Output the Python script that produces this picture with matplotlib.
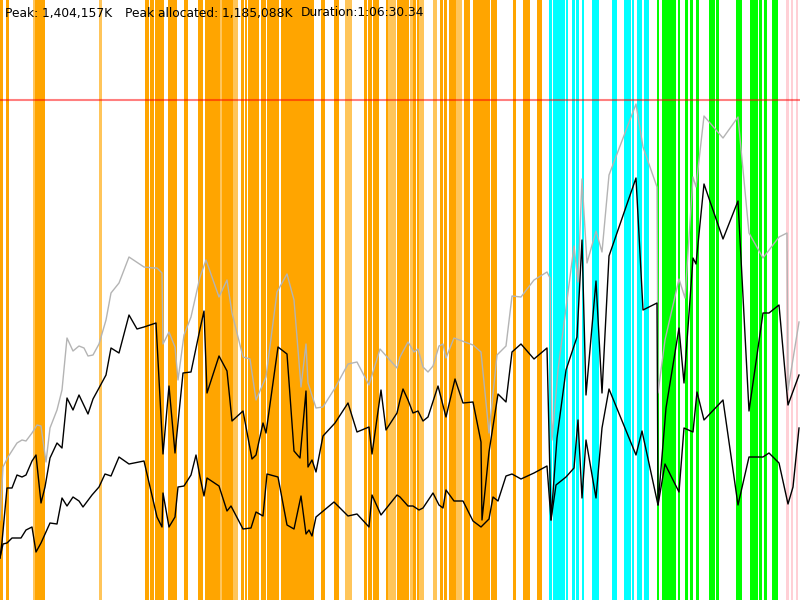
"""
GC log overview: heap lines over collection events
"""

import matplotlib
matplotlib.use("Agg")
import matplotlib.pyplot as plt

### values (pixel units, y grows downwards)
gray_x = [0, 3, 8, 17, 22, 26, 32, 37, 41, 46, 50, 57, 62, 67, 73, 79, 84, 88, 93, 99,
          106, 111, 119, 129, 144, 154, 157, 162, 163, 169, 175, 178, 184, 191, 200, 206,
          219, 227, 232, 243, 250, 256, 266, 277, 287, 294, 301, 306, 308, 316, 323, 335,
          348, 357, 369, 380, 397, 400, 408, 414, 418, 423, 428, 433, 439, 443, 446, 454,
          473, 481, 489, 497, 506, 512, 521, 534, 547, 550, 552, 558, 574, 578, 582, 587,
          596, 602, 609, 636, 643, 657, 658, 665, 679, 685, 693, 696, 704, 723, 738, 749,
          763, 779, 787, 788, 799]
gray_y = [520, 467, 457, 443, 440, 441, 433, 425, 426, 462, 428, 410, 390, 338, 351, 346,
          348, 356, 355, 344, 320, 293, 283, 257, 267, 268, 268, 273, 344, 332, 347, 380,
          335, 317, 277, 260, 297, 280, 313, 357, 359, 400, 377, 292, 274, 300, 387, 344,
          383, 408, 407, 388, 364, 362, 385, 349, 368, 357, 342, 352, 349, 367, 372, 366,
          346, 344, 358, 338, 345, 352, 433, 355, 346, 296, 297, 280, 272, 278, 440, 370,
          246, 282, 179, 263, 231, 252, 175, 104, 147, 187, 393, 340, 279, 298, 177, 187,
          116, 138, 117, 233, 258, 237, 233, 390, 322]

upper_x = [0, 2, 7, 12, 17, 22, 26, 32, 36, 41, 45, 50, 57, 62, 67, 73, 79, 88, 93, 99,
           106, 111, 119, 129, 137, 144, 156, 163, 169, 175, 183, 191, 200, 204, 207, 219,
           227, 232, 243, 252, 256, 263, 266, 278, 287, 294, 300, 306, 308, 312, 316, 323,
           335, 348, 357, 369, 372, 381, 386, 397, 400, 403, 408, 413, 418, 423, 428, 438,
           446, 455, 463, 473, 481, 482, 489, 498, 506, 512, 521, 534, 547, 551, 557, 566,
           577, 582, 586, 596, 602, 609, 636, 643, 657, 658, 666, 679, 684, 693, 696, 704,
           723, 738, 749, 763, 769, 779, 788, 799]
upper_y = [558, 542, 488, 488, 475, 477, 475, 461, 455, 503, 487, 458, 443, 448, 398, 410,
           395, 414, 399, 388, 375, 348, 353, 315, 329, 327, 323, 454, 386, 453, 373, 372,
           329, 311, 393, 356, 371, 421, 411, 459, 455, 423, 433, 347, 354, 451, 458, 391,
           467, 460, 472, 436, 423, 403, 432, 427, 454, 390, 430, 413, 400, 389, 400, 413,
           411, 421, 417, 386, 417, 379, 403, 402, 442, 520, 452, 394, 402, 352, 344, 359,
           348, 520, 438, 370, 337, 240, 395, 281, 393, 256, 178, 310, 303, 505, 408, 328,
           383, 258, 264, 184, 239, 201, 411, 313, 313, 305, 405, 375]

lower_x = [0, 3, 7, 12, 17, 21, 26, 32, 36, 41, 50, 57, 62, 67, 73, 79, 83, 92, 99, 105,
           111, 119, 129, 144, 157, 162, 163, 169, 175, 178, 184, 191, 196, 200, 204, 207,
           219, 227, 231, 243, 251, 256, 263, 267, 278, 287, 294, 301, 306, 309, 312, 316,
           334, 348, 357, 369, 372, 381, 397, 400, 408, 413, 419, 423, 433, 439, 443, 446,
           454, 463, 473, 481, 489, 493, 498, 506, 512, 521, 534, 547, 551, 556, 566, 574,
           578, 582, 586, 596, 602, 609, 636, 642, 658, 665, 679, 684, 693, 697, 704, 723,
           738, 749, 763, 769, 779, 788, 793, 799]
lower_y = [558, 544, 543, 538, 538, 538, 530, 527, 552, 543, 523, 524, 498, 506, 497, 501,
           507, 495, 487, 474, 476, 457, 464, 461, 517, 527, 493, 527, 517, 487, 486, 475,
           455, 477, 496, 478, 486, 511, 506, 529, 528, 512, 516, 474, 477, 525, 529, 496,
           534, 530, 536, 517, 502, 516, 514, 527, 495, 515, 495, 497, 506, 506, 510, 508,
           493, 505, 508, 490, 501, 501, 521, 527, 519, 497, 501, 476, 474, 479, 473, 466,
           520, 485, 477, 468, 420, 498, 440, 498, 428, 389, 455, 431, 505, 464, 492, 428,
           432, 392, 420, 400, 505, 457, 457, 453, 463, 504, 487, 428]

# collection events: start and width of each stripe
orange_start = [0, 6, 35, 145, 150, 155, 160, 168, 184, 198, 205, 209, 222, 232, 241, 245,
                248, 250, 261, 267, 281, 287, 296, 302, 312, 321, 334, 364, 368, 373, 386,
                397, 413, 417, 440, 444, 449, 453, 464, 473, 480, 491, 494, 513, 523, 526, 537]
orange_width = [3, 3, 10, 4, 4, 5, 4, 9, 4, 5, 4, 12, 10, 2, 3, 2,
                2, 9, 5, 12, 6, 9, 6, 10, 2, 4, 5, 3, 4, 6, 2,
                12, 3, 2, 3, 3, 4, 4, 6, 8, 10, 3, 3, 3, 3, 4, 5]
pale_start = [33, 99, 220, 233, 345, 388, 410, 419, 433, 456]
pale_width = [2, 3, 2, 5, 7, 8, 3, 5, 4, 6]
cyan_start = [549, 553, 566, 572, 576, 582, 592, 612, 624, 632, 637, 644]
cyan_width = [3, 12, 2, 3, 3, 2, 7, 5, 7, 2, 5, 5]
green_start = [657, 662, 669, 673, 678, 685, 690, 696, 709, 716, 736, 750, 754, 759, 764, 772]
green_width = [2, 7, 4, 3, 2, 3, 3, 3, 6, 3, 6, 4, 4, 3, 3, 6]
pink_start = [786, 791, 796]
pink_width = [3, 2, 2]

peak_level = 100
peak_text = "Peak: 1,404,157K"
alloc_text = "Peak allocated: 1,185,088K"
duration_text = "Duration:1:06:30.34"

fig = plt.figure(figsize=(8, 6), dpi=100)
ax = fig.add_axes([0, 0, 1, 1])
ax.set_xlim(0, 800)
ax.set_ylim(600, 0)
ax.axis("off")

H = 600
ax.bar(orange_start, H, width=orange_width, align="edge", color="#FFA500", linewidth=0)
ax.bar(pale_start, H, width=pale_width, align="edge", color="#FFC55A", linewidth=0)
ax.bar(cyan_start, H, width=cyan_width, align="edge", color="#00FFFF", linewidth=0)
ax.bar(green_start, H, width=green_width, align="edge", color="#00FF00", linewidth=0)
ax.bar(pink_start, H, width=pink_width, align="edge", color="#FFD0D6", linewidth=0)

ax.axhline(peak_level, color="red", alpha=0.5, linewidth=1.5)

ax.plot(gray_x, gray_y, color="#B4B4B4", linewidth=1)
ax.plot(upper_x, upper_y, color="black", linewidth=1)
ax.plot(lower_x, lower_y, color="black", linewidth=1)

fs = 8.8
ax.text(5, 13, peak_text, fontsize=fs, va="center", ha="left")
ax.text(125, 13, alloc_text, fontsize=fs, va="center", ha="left")
ax.text(301, 13, duration_text, fontsize=fs, va="center", ha="left")

fig.savefig("out.png", dpi=100)
